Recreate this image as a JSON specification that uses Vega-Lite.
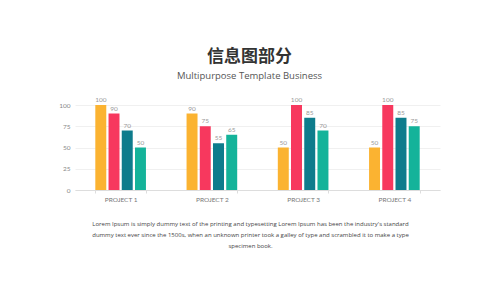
{
  "$schema": "https://vega.github.io/schema/vega-lite/v6.json",
  "width": 365,
  "height": 85,
  "autosize": "none",
  "padding": {"left": 75, "top": 105, "right": 60, "bottom": 91},
  "background": "white",
  "config": {"view": {"stroke": null}},
  "title": {
    "text": "信息图部分",
    "subtitle": "Multipurpose Template Business",
    "anchor": "middle",
    "dx": -8,
    "offset": 16,
    "font": "Noto Sans CJK SC",
    "fontSize": 17,
    "fontWeight": "bold",
    "color": "#333333",
    "subtitleFont": "Open Sans",
    "subtitleFontSize": 9.5,
    "subtitleColor": "#555555",
    "subtitlePadding": 5
  },
  "data": {
    "values": [
      {"project": "PROJECT 1", "series": "S1", "value": 100},
      {"project": "PROJECT 1", "series": "S2", "value": 90},
      {"project": "PROJECT 1", "series": "S3", "value": 70},
      {"project": "PROJECT 1", "series": "S4", "value": 50},
      {"project": "PROJECT 2", "series": "S1", "value": 90},
      {"project": "PROJECT 2", "series": "S2", "value": 75},
      {"project": "PROJECT 2", "series": "S3", "value": 55},
      {"project": "PROJECT 2", "series": "S4", "value": 65},
      {"project": "PROJECT 3", "series": "S1", "value": 50},
      {"project": "PROJECT 3", "series": "S2", "value": 100},
      {"project": "PROJECT 3", "series": "S3", "value": 85},
      {"project": "PROJECT 3", "series": "S4", "value": 70},
      {"project": "PROJECT 4", "series": "S1", "value": 50},
      {"project": "PROJECT 4", "series": "S2", "value": 100},
      {"project": "PROJECT 4", "series": "S3", "value": 85},
      {"project": "PROJECT 4", "series": "S4", "value": 75}
    ]
  },
  "encoding": {
    "x": {
      "field": "project",
      "type": "nominal",
      "scale": {"paddingInner": 0.445, "paddingOuter": 0.2225},
      "axis": {
        "labelAngle": 0,
        "labelFont": "Lato",
        "labelFontSize": 6.5,
        "labelColor": "#777777",
        "labelPadding": 3,
        "domainColor": "#dddddd",
        "tickColor": "#dddddd",
        "tickSize": 3,
        "tickBand": "extent",
        "title": [
          "Lorem Ipsum is simply dummy text of the printing and typesetting Lorem Ipsum has been the industry's standard",
          "dummy text ever since the 1500s, when an unknown printer took a galley of type and scrambled it to make a type",
          "specimen book."
        ],
        "titleFont": "Open Sans",
        "titleFontSize": 6,
        "titleFontWeight": "normal",
        "titleColor": "#444444",
        "titleLineHeight": 11,
        "titlePadding": 18,
        "titleX": 175
      }
    },
    "xOffset": {
      "field": "series",
      "type": "nominal",
      "scale": {"paddingInner": 0.17, "paddingOuter": 0}
    },
    "y": {
      "field": "value",
      "type": "quantitative",
      "scale": {"domain": [0, 100]},
      "axis": {
        "values": [0, 25, 50, 75, 100],
        "title": null,
        "domain": false,
        "ticks": false,
        "labelPadding": 5,
        "labelFont": "Lato",
        "labelFontSize": 6.5,
        "labelColor": "#888888",
        "gridColor": "#f0f0f0"
      }
    }
  },
  "layer": [
    {
      "mark": {"type": "bar"},
      "encoding": {
        "color": {
          "field": "series",
          "type": "nominal",
          "scale": {"domain": ["S1", "S2", "S3", "S4"], "range": ["#FBB331", "#F7385E", "#0E7C8C", "#14B39A"]},
          "legend": null
        }
      }
    },
    {
      "mark": {"type": "text", "dy": -5, "font": "Lato", "fontSize": 6.5, "color": "#999999"},
      "encoding": {"text": {"field": "value", "type": "quantitative"}}
    }
  ]
}
